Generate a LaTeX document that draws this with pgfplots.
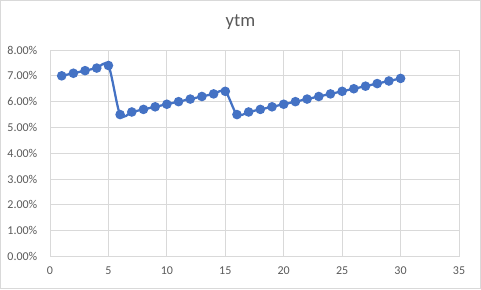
\documentclass[border=0pt]{standalone}
\usepackage{pgfplots}
\pgfplotsset{compat=1.18}
\usepackage{fontspec}
\setmainfont{Carlito}
\definecolor{linecol}{HTML}{4472C4}
\definecolor{gridcol}{HTML}{D9D9D9}
\definecolor{textcol}{HTML}{595959}
\begin{document}
\begin{tikzpicture}
\draw[gridcol, line width=0.75pt] (0.375pt,0.375pt) rectangle (360.375pt,216.375pt);
\node[text=textcol, font=\fontsize{14}{16}\selectfont] at (180.375pt,200.25pt) {ytm};
\begin{axis}[
  at={(37.5pt,24.3pt)}, anchor=south west,
  scale only axis,
  width=306.75pt, height=154.95pt,
  xmin=0, xmax=35, ymin=0, ymax=8,
  xtick={0,5,...,35}, ytick={0,1,...,8},
  grid=major,
  grid style={gridcol, line width=0.75pt},
  axis line style={gridcol, line width=0.75pt},
  major tick length=0pt,
  tick label style={text=textcol, font=\fontsize{9}{11}\selectfont},
  /pgf/number format/assume math mode=true,
  yticklabel={\pgfmathprintnumber[fixed,fixed zerofill,precision=2]{\tick}\%},
  xticklabel style={yshift=-4pt},
  yticklabel style={xshift=-6pt},
  clip=false,
]
\addplot[color=linecol, line width=1.7pt, smooth, tension=0.5, mark=*, mark size=2.7pt, mark options={fill=linecol, draw=linecol}] coordinates {
(1,7.0)(2,7.1)(3,7.2)(4,7.3)(5,7.4)
(6,5.5)(7,5.6)(8,5.7)(9,5.8)(10,5.9)(11,6.0)(12,6.1)(13,6.2)(14,6.3)(15,6.4)
(16,5.5)(17,5.6)(18,5.7)(19,5.8)(20,5.9)(21,6.0)(22,6.1)(23,6.2)(24,6.3)(25,6.4)
(26,6.5)(27,6.6)(28,6.7)(29,6.8)(30,6.9)
};
\end{axis}
\end{tikzpicture}
\end{document}
